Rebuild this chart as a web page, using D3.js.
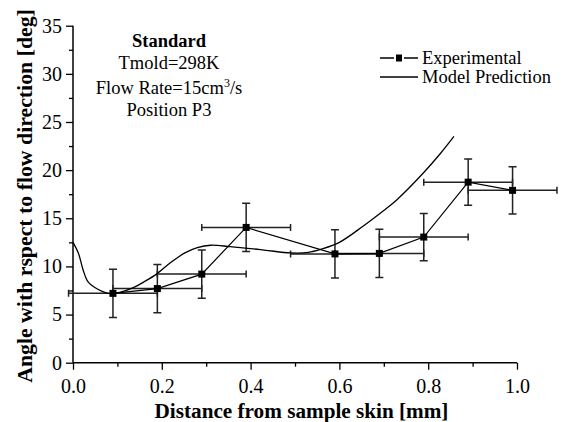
<!DOCTYPE html>
<html><head><meta charset="utf-8">
<script src="https://cdn.jsdelivr.net/npm/d3@7"></script>
<style>
html,body{margin:0;padding:0;background:#fff;}
svg{display:block;}
text{font-family:"Liberation Serif","Times New Roman",serif;fill:#000;}
</style></head>
<body>
<svg id="c" width="563" height="422"></svg>
<script>
// Experimental data
const expX = [0.09, 0.19, 0.29, 0.39, 0.59, 0.69, 0.79, 0.89, 0.99];
const expY = [7.2, 7.7, 9.2, 14.05, 11.3, 11.35, 13.05, 18.75, 17.9];
const expYErr = [2.5, 2.5, 2.5, 2.5, 2.5, 2.5, 2.45, 2.4, 2.45];
const expXErr = [0.1, 0.1, 0.1, 0.1, 0.1, 0.1, 0.1, 0.1, 0.1];
// Model prediction
const modelX = [0, 0.012, 0.023, 0.034, 0.057, 0.075, 0.088, 0.105, 0.136, 0.16, 0.188, 0.22, 0.252, 0.28, 0.31, 0.354, 0.43, 0.49, 0.53, 0.56, 0.6, 0.654, 0.7, 0.729, 0.789, 0.827, 0.858];
const modelY = [12.5, 11.4, 9.6, 8.4, 7.6, 7.25, 7.15, 7.3, 7.8, 8.4, 9.2, 10.4, 11.4, 11.95, 12.2, 12.05, 11.7, 11.4, 11.45, 11.8, 12.5, 14.2, 15.8, 16.9, 19.7, 21.7, 23.5];
// Ticks
const xTicks = [0.0, 0.2, 0.4, 0.6, 0.8, 1.0];
const xMinor = [0.1, 0.3, 0.5, 0.7, 0.9];
const yTicks = [0, 5, 10, 15, 20, 25, 30, 35];
const yMinor = [2.5, 7.5, 12.5, 17.5, 22.5, 27.5, 32.5];
const annotation = ["Standard", "Tmold=298K", "Flow Rate=15cm", "Position P3"];
const legendLabels = ["Experimental", "Model Prediction"];

const svg = d3.select("#c");
const x = d3.scaleLinear().domain([0, 1]).range([73, 517]);
const y = d3.scaleLinear().domain([0, 35]).range([362.7, 25.7]);

// axes
const ax = svg.append("g").attr("transform", `translate(0,${y(0)})`)
  .call(d3.axisBottom(x).tickValues(xTicks).tickSize(7).tickPadding(9).tickFormat(d3.format(".1f")));
const axm = svg.append("g").attr("transform", `translate(0,${y(0)})`)
  .call(d3.axisBottom(x).tickValues(xMinor).tickSize(4).tickFormat(""));
const ay = svg.append("g").attr("transform", `translate(${x(0)},0)`)
  .call(d3.axisLeft(y).tickValues(yTicks).tickSize(7).tickPadding(4));
const aym = svg.append("g").attr("transform", `translate(${x(0)},0)`)
  .call(d3.axisLeft(y).tickValues(yMinor).tickSize(4).tickFormat(""));
[ax, axm, ay, aym].forEach(g => {
  g.select(".domain").attr("stroke", "#000").attr("stroke-width", 1.5);
  g.selectAll(".tick line").attr("stroke", "#000").attr("stroke-width", 1.3);
  g.selectAll(".tick text").attr("font-size", 20).attr("fill", "#000");
});
[axm, aym].forEach(g => g.select(".domain").remove());
ax.select(".domain").attr("d", `M${x(0)},0H${x(1)}`);
ay.select(".domain").attr("d", `M0,${y(0)}V${y(35)}`);

// axis titles
svg.append("text").attr("x", 301.5).attr("y", 418)
  .attr("text-anchor", "middle").attr("font-size", 21.2).attr("font-weight", "bold")
  .text("Distance from sample skin [mm]");
svg.append("text").attr("transform", `translate(32,196) rotate(-90)`)
  .attr("text-anchor", "middle").attr("font-size", 21.8).attr("font-weight", "bold")
  .text("Angle with rspect to flow direction [deg]");

// error bars
const eb = svg.append("g").attr("stroke", "#222").attr("stroke-width", 1.5).attr("fill", "none");
expX.forEach((xv, i) => {
  const yv = expY[i], dy = expYErr[i], dx = expXErr[i];
  const px = x(xv), py = y(yv);
  const t = y(yv + dy), b = y(yv - dy), l = x(xv - dx), r = x(xv + dx);
  eb.append("path").attr("d",
    `M${px},${t}V${b}M${px-4},${t}H${px+4}M${px-4},${b}H${px+4}` +
    `M${l},${py}H${r}M${l},${py-3.5}V${py+3.5}M${r},${py-3.5}V${py+3.5}`);
});

// experimental line
const line = d3.line().x(d => x(d[0])).y(d => y(d[1]));
svg.append("path").datum(expX.map((v, i) => [v, expY[i]]))
  .attr("d", line).attr("fill", "none").attr("stroke", "#000").attr("stroke-width", 1.2);
svg.append("g").selectAll("rect").data(expX.map((v, i) => [v, expY[i]])).join("rect")
  .attr("x", d => x(d[0]) - 3.5).attr("y", d => y(d[1]) - 3.5)
  .attr("width", 7).attr("height", 7).attr("fill", "#000");

// model line
const curve = d3.line().x(d => x(d[0])).y(d => y(d[1])).curve(d3.curveCatmullRom.alpha(0.5));
svg.append("path").datum(modelX.map((v, i) => [v, modelY[i]]))
  .attr("d", curve).attr("fill", "none").attr("stroke", "#000").attr("stroke-width", 1.3);

// annotation
svg.append("text").attr("x", 169).attr("y", 47).attr("text-anchor", "middle")
  .attr("font-size", 18.5).attr("font-weight", "bold").text(annotation[0]);
svg.append("text").attr("x", 169).attr("y", 69).attr("text-anchor", "middle")
  .attr("font-size", 18.5).text(annotation[1]);
const fr = svg.append("text").attr("x", 169).attr("y", 94).attr("text-anchor", "middle")
  .attr("font-size", 18.5);
fr.append("tspan").text(annotation[2]);
fr.append("tspan").attr("dy", -7).attr("font-size", 12).text("3");
fr.append("tspan").attr("dy", 7).text("/s");
svg.append("text").attr("x", 169).attr("y", 116).attr("text-anchor", "middle")
  .attr("font-size", 18.5).text(annotation[3]);

// legend
const lg = svg.append("g");
lg.append("path").attr("d", "M380,58H394M404,58H418").attr("stroke", "#000").attr("stroke-width", 1.3);
lg.append("rect").attr("x", 396).attr("y", 54.5).attr("width", 6).attr("height", 7).attr("fill", "#000");
lg.append("text").attr("x", 422).attr("y", 64).attr("font-size", 18.5).text(legendLabels[0]);
lg.append("path").attr("d", "M380,77H418").attr("stroke", "#000").attr("stroke-width", 1.3);
lg.append("text").attr("x", 422).attr("y", 83).attr("font-size", 18.5).text(legendLabels[1]);
</script>
</body></html>
